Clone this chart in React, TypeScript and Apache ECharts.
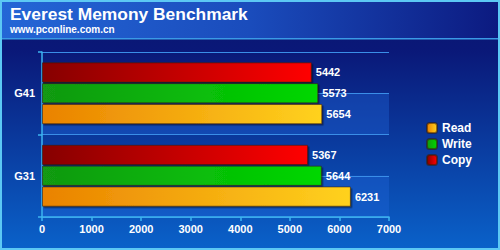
import React, { useEffect, useRef } from "react";
import * as echarts from "echarts";

const categories = ["G31", "G41"];
const readValues = [6231, 5654];
const writeValues = [5644, 5573];
const copyValues = [5367, 5442];
const seriesNames = ["Read", "Write", "Copy"];
const xMin = 0;
const xMax = 7000;
const xInterval = 1000;

const FONT = "'Liberation Sans', Arial, sans-serif";

const grad = (c0: string, c1: string) =>
  new echarts.graphic.LinearGradient(0, 0, 1, 0, [
    { offset: 0, color: c0 },
    { offset: 1, color: c1 },
  ]);

export default function App() {
  const ref = useRef<HTMLDivElement>(null);
  useEffect(() => {
    if (!ref.current) return;
    const chart = echarts.init(ref.current, null, { renderer: "svg" });
    const barStyle = (c0: string, c1: string) => ({
      color: grad(c0, c1),
      borderColor: "rgba(60,30,0,0.55)",
      borderWidth: 1,
      shadowColor: "rgba(0,0,0,0.45)",
      shadowOffsetX: 1.5,
      shadowOffsetY: 1.5,
      shadowBlur: 1,
    });
    const label = {
      show: true,
      position: "right" as const,
      distance: 4,
      color: "#fff",
      fontWeight: "bold" as const,
      fontSize: 11,
      fontFamily: FONT,
    };
    const colors = [
      ["#ea8200", "#ffd21e"],
      ["#129812", "#00d800"],
      ["#860000", "#ff0000"],
    ];
    const values = [readValues, writeValues, copyValues];
    // ECharts stacks horizontal bars top-down in series order; the reference has Copy on top
    const drawOrder = [2, 1, 0];
    chart.setOption({
      animation: false,
      backgroundColor: new echarts.graphic.LinearGradient(0, 0, 0, 1, [
        { offset: 0, color: "#0a1670" },
        { offset: 0.2, color: "#0a1878" },
        { offset: 1, color: "#0a62ca" },
      ]),
      graphic: [
        {
          type: "rect",
          z: -1,
          shape: { x: 0, y: 0, width: 500, height: 38 },
          style: {
            fill: new echarts.graphic.LinearGradient(0, 0, 1, 0, [
              { offset: 0, color: "#2466d6" },
              { offset: 0.5, color: "#1a4cbc" },
              { offset: 1, color: "#0c1a80" },
            ]),
          },
        },
        {
          type: "rect",
          z: -1,
          shape: { x: 0, y: 38, width: 500, height: 1.5 },
          style: { fill: "#3a9ae6" },
        },
        {
          type: "rect",
          z: 100,
          shape: { x: 1, y: 1, width: 498, height: 248 },
          style: { fill: "none", stroke: "#5cc8f4", lineWidth: 2 },
        },
      ],
      title: {
        text: "Everest Memony Benchmark",
        subtext: "www.pconline.com.cn",
        left: 10,
        top: 5,
        padding: 0,
        itemGap: 2,
        textStyle: { color: "#fff", fontWeight: "bold", fontSize: 17.4, fontFamily: FONT },
        subtextStyle: { color: "#fff", fontWeight: "bold", fontSize: 10, fontFamily: FONT },
      },
      legend: {
        orient: "vertical",
        left: 426,
        top: 122,
        itemWidth: 10,
        itemHeight: 10,
        itemGap: 4,
        padding: 0,
        data: seriesNames,
        textStyle: { color: "#fff", fontWeight: "bold", fontSize: 12, fontFamily: FONT },
      },
      grid: { left: 42, right: 111, top: 52, bottom: 33, containLabel: false },
      xAxis: {
        type: "value",
        min: xMin,
        max: xMax,
        interval: xInterval,
        axisLine: { show: true, lineStyle: { color: "#3cb4f0", width: 1.5 } },
        axisTick: { show: true, length: 4, lineStyle: { color: "#3cb4f0", width: 1.5 } },
        splitLine: { show: false },
        axisLabel: {
          color: "#fff",
          fontWeight: "bold",
          fontSize: 11,
          fontFamily: FONT,
          margin: 6,
          formatter: (v: number) => String(v),
        },
      },
      yAxis: [
        {
          type: "category",
          data: categories,
          axisLine: { show: true, lineStyle: { color: "#3cb4f0", width: 1.5 } },
          axisTick: { show: true, length: 4, lineStyle: { color: "#3cb4f0", width: 1.5 } },
          splitLine: { show: false },
          axisLabel: { color: "#fff", fontWeight: "bold", fontSize: 11, fontFamily: FONT, margin: 7 },
        },
        {
          type: "value",
          min: 0,
          max: 4,
          interval: 1,
          position: "left",
          axisLine: { show: false },
          axisTick: { show: false },
          axisLabel: { show: false },
          splitLine: { show: true, lineStyle: { color: "#3a8ee8", width: 1 } },
          splitArea: {
            show: true,
            areaStyle: { color: ["rgba(30,100,215,0.4)", "rgba(0,0,0,0)"] },
          },
        },
      ],
      series: drawOrder.map((i) => ({
        name: seriesNames[i],
        type: "bar",
        yAxisIndex: 0,
        data: values[i],
        barCategoryGap: "25%",
        barGap: "3%",
        itemStyle: barStyle(colors[i][0], colors[i][1]),
        label,
      })),
    });
    return () => chart.dispose();
  }, []);
  return (
    <div
      ref={ref}
      style={{ position: "fixed", left: 0, top: 0, width: 500, height: 250 }}
    />
  );
}
